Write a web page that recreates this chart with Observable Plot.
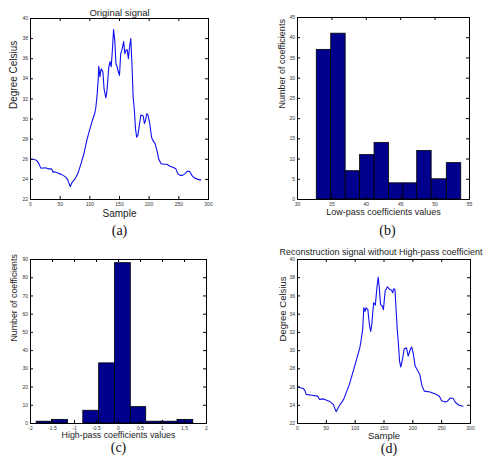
<!DOCTYPE html>
<html>
<head>
<meta charset="utf-8">
<script src="https://cdn.jsdelivr.net/npm/d3@7"></script>
<script src="https://cdn.jsdelivr.net/npm/@observablehq/plot@0.6"></script>
<style>
  html, body { margin: 0; padding: 0; background: #fff; }
  #page { position: relative; width: 487px; height: 464px; overflow: hidden; }
  #page > svg { position: absolute; overflow: visible; }
</style>
</head>
<body>
<div id="page"></div>
<script>
// Temperature signal (sample index, degrees Celsius)
const origSample = [0, 5, 10, 13, 16, 18, 25, 30, 35, 37, 38, 40, 45, 50, 55, 60, 63, 67, 70, 75, 80, 85, 90, 95, 100, 105, 108, 110, 112, 114, 115, 117, 119, 122, 124, 127, 129, 132, 134, 136, 138, 140, 142, 144, 146, 148, 150, 152, 154, 157, 159, 161, 163, 165, 167, 169, 171, 173, 175, 177, 179, 181, 183, 186, 190, 192, 194, 196, 198, 201, 204, 207, 210, 213, 216, 220, 225, 230, 235, 240, 245, 248, 252, 256, 260, 264, 268, 272, 276, 280, 285, 287];
const origTemp = [26.0, 26.0, 25.9, 25.7, 25.3, 25.1, 25.15, 25.05, 25.05, 24.9, 24.7, 24.75, 24.65, 24.55, 24.4, 24.2, 23.9, 23.3, 23.7, 24.05, 24.6, 25.55, 26.55, 27.9, 29.0, 30.0, 30.5, 31.1, 32.2, 33.85, 35.25, 34.2, 35.0, 34.7, 33.0, 32.1, 32.9, 35.2, 35.7, 35.2, 36.85, 38.9, 37.85, 35.5, 35.2, 34.7, 34.35, 36.5, 36.85, 37.7, 36.5, 36.85, 36.9, 36.0, 37.2, 38.0, 35.5, 32.2, 30.9, 29.0, 28.2, 28.4, 29.2, 30.4, 30.3, 29.55, 29.9, 30.55, 30.4, 29.55, 28.2, 27.8, 27.55, 26.9, 26.05, 25.55, 25.5, 25.5, 25.3, 25.2, 25.05, 24.6, 24.4, 24.4, 24.55, 24.8, 24.8, 24.4, 24.15, 24.05, 23.95, 23.95];

// Reconstruction from the low-pass coefficients only
const reconSample = [0, 10, 13, 15, 25, 35, 38, 45, 55, 62, 67, 72, 80, 90, 100, 108, 110, 113, 115, 117, 119, 122, 125, 127, 129, 132, 135, 138, 140, 142, 144, 147, 149, 152, 156, 160, 163, 165, 167, 169, 171, 173, 175, 177, 179, 182, 185, 189, 192, 196, 198, 201, 204, 208, 212, 216, 220, 230, 240, 246, 250, 256, 260, 265, 270, 274, 280, 287];
const reconTemp = [26.0, 25.85, 25.6, 25.2, 25.1, 25.0, 24.65, 24.7, 24.45, 24.1, 23.3, 23.9, 24.65, 26.3, 28.5, 30.3, 31.0, 32.3, 34.7, 34.3, 34.7, 34.5, 32.7, 32.1, 33.0, 35.25, 35.0, 37.1, 38.05, 36.8, 35.05, 34.9, 34.5, 36.55, 37.0, 36.7, 36.65, 36.35, 36.8, 36.7, 34.5, 32.3, 30.7, 28.85, 28.2, 29.0, 30.2, 30.3, 29.4, 30.2, 30.4, 29.6, 28.3, 27.85, 27.4, 26.1, 25.55, 25.45, 25.2, 25.0, 24.5, 24.35, 24.45, 24.8, 24.75, 24.3, 24.0, 23.9];

// Histogram of low-pass coefficients (10 bins)
const lowEdges = [32.8, 34.9, 37.0, 39.1, 41.2, 43.3, 45.4, 47.4, 49.5, 51.7, 53.8];
const lowCounts = [37, 41, 7, 11, 14, 4, 4, 12, 5, 9];

// Histogram of high-pass coefficients (10 bins)
const highEdges = [-1.86, -1.51, -1.15, -0.80, -0.44, -0.08, 0.28, 0.63, 0.98, 1.34, 1.70];
const highCounts = [1, 2, 0, 7, 33, 88, 9, 1, 1, 2];

// Axis ticks
const sampleTicks = [0, 50, 100, 150, 200, 250, 300];
const tempTicks = [22, 24, 26, 28, 30, 32, 34, 36, 38, 40];
const lowTicks = [30, 35, 40, 45, 50, 55];
const lowCountTicks = [0, 5, 10, 15, 20, 25, 30, 35, 40, 45];
const highTicks = [-2, -1.5, -1, -0.5, 0, 0.5, 1, 1.5, 2];
const highCountTicks = [0, 10, 20, 30, 40, 50, 60, 70, 80, 90];

const toRows = (xs, ys) => xs.map((x, i) => ({x, y: ys[i]}));
const binRows = (edges, counts) => counts.map((c, i) => ({x1: edges[i], x2: edges[i + 1], count: c}));

const page = document.getElementById("page");
const LABEL_FONT = "'Liberation Sans', Arial, sans-serif";

function panel(opt) {
  const {left, top, width, height, margin, xDomain, yDomain, xTicks, yTicks, marks,
         title, titleDy, titleDx = 0, titleSize = 9, labelSize = 9,
         xLabel, xLabelDy, yLabel, yLabelDx, caption, captionDy, captionDx = 0} = opt;
  const fw = width - margin[1] - margin[3];
  const fh = height - margin[0] - margin[2];
  const tick = 3;
  const fmt = d => String(d);
  const textMarks = [];
  if (title) textMarks.push(Plot.text([title], {text: d => d, frameAnchor: "top", dy: titleDy, dx: titleDx, fontSize: titleSize, fill: "#222"}));
  textMarks.push(Plot.text([xLabel], {text: d => d, frameAnchor: "bottom", dy: xLabelDy, fontSize: labelSize, fill: "#222"}));
  textMarks.push(Plot.text([yLabel], {text: d => d, frameAnchor: "left", dx: yLabelDx, rotate: -90, fontSize: labelSize, fill: "#222"}));
  textMarks.push(Plot.text([caption], {text: d => d, frameAnchor: "bottom", dy: captionDy, dx: captionDx, fontSize: 14, fill: "#111", fontFamily: "'Liberation Serif', 'Times New Roman', serif"}));

  const svg = Plot.plot({
    width, height,
    marginTop: margin[0], marginRight: margin[1], marginBottom: margin[2], marginLeft: margin[3],
    style: {fontFamily: LABEL_FONT, background: "white", overflow: "visible"},
    x: {domain: xDomain},
    y: {domain: yDomain},
    marks: [
      ...marks,
      Plot.axisX({ticks: xTicks, tickSize: 0, tickPadding: 3, tickFormat: fmt, fontSize: 5, fill: "#333", label: null}),
      Plot.axisY({ticks: yTicks, tickSize: 0, tickPadding: 2.5, tickFormat: fmt, fontSize: 5, fill: "#333", label: null}),
      // inward ticks on all four sides
      Plot.ruleX(xTicks, {x: d => d, insetTop: fh - tick, stroke: "black"}),
      Plot.ruleX(xTicks, {x: d => d, insetBottom: fh - tick, stroke: "black"}),
      Plot.ruleY(yTicks, {y: d => d, insetRight: fw - tick, stroke: "black"}),
      Plot.ruleY(yTicks, {y: d => d, insetLeft: fw - tick, stroke: "black"}),
      Plot.frame({stroke: "black", strokeWidth: 1}),
      ...textMarks
    ]
  });
  svg.style.left = left + "px";
  svg.style.top = top + "px";
  page.appendChild(svg);
}

// (a) original signal
panel({
  left: 0, top: 0, width: 243, height: 245, margin: [18, 35, 46, 30],
  xDomain: [0, 300], yDomain: [22, 40], xTicks: sampleTicks, yTicks: tempTicks,
  marks: [Plot.line(toRows(origSample, origTemp), {x: "x", y: "y", stroke: "#1010f0", strokeWidth: 1.1})],
  title: "Original signal", titleDy: -9, titleSize: 9.5, labelSize: 10,
  xLabel: "Sample", xLabelDy: 17,
  yLabel: "Degree Celsius", yLabelDx: -16.5,
  caption: "(a)", captionDy: 35
});

// (b) low-pass coefficient histogram
panel({
  left: 243, top: 0, width: 244, height: 245, margin: [17, 18, 46, 54],
  xDomain: [30, 55], yDomain: [0, 45], xTicks: lowTicks, yTicks: lowCountTicks,
  marks: [Plot.rectY(binRows(lowEdges, lowCounts), {x1: "x1", x2: "x2", y: "count", fill: "#00008c", stroke: "black", strokeWidth: 0.8})],
  xLabel: "Low-pass coefficients values", xLabelDy: 15,
  yLabel: "Number of coefficients", yLabelDx: -15,
  caption: "(b)", captionDy: 35, captionDx: 4
});

// (c) high-pass coefficient histogram
panel({
  left: 0, top: 245, width: 243, height: 219, margin: [14, 37, 41, 30],
  xDomain: [-2, 2], yDomain: [0, 90], xTicks: highTicks, yTicks: highCountTicks,
  marks: [Plot.rectY(binRows(highEdges, highCounts), {x1: "x1", x2: "x2", y: "count", fill: "#00008c", stroke: "black", strokeWidth: 0.8})],
  xLabel: "High-pass coefficients values", xLabelDy: 14, labelSize: 8.8,
  yLabel: "Number of coefficients", yLabelDx: -16,
  caption: "(c)", captionDy: 28.5
});

// (d) reconstruction without high-pass coefficients
panel({
  left: 243, top: 245, width: 244, height: 219, margin: [14, 17, 41, 54],
  xDomain: [0, 300], yDomain: [22, 40], xTicks: sampleTicks, yTicks: tempTicks,
  marks: [Plot.line(toRows(reconSample, reconTemp), {x: "x", y: "y", stroke: "#1010f0", strokeWidth: 1.1})],
  title: "Reconstruction signal without High-pass coefficient", titleDy: -11, titleDx: -3, titleSize: 9,
  xLabel: "Sample", xLabelDy: 15.5, labelSize: 9.5,
  yLabel: "Degree Celsius", yLabelDx: -15,
  caption: "(d)", captionDy: 29.5, captionDx: 5
});
</script>
</body>
</html>
